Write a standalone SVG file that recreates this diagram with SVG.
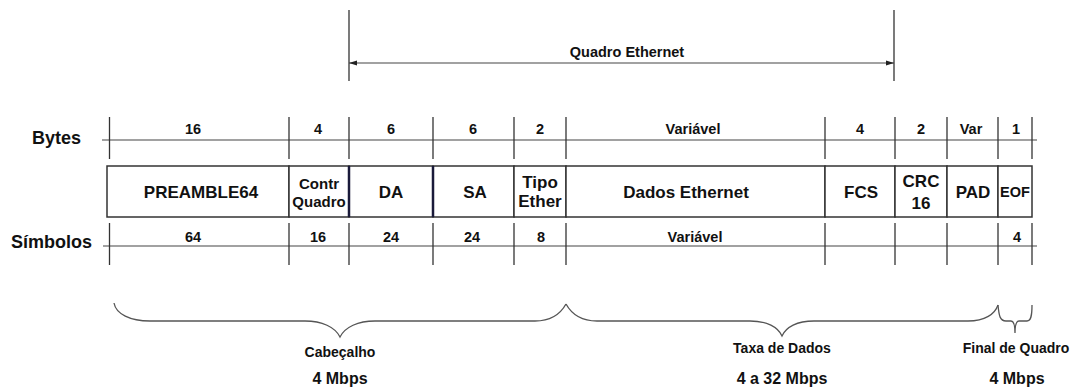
<svg xmlns="http://www.w3.org/2000/svg" width="1077" height="387" viewBox="0 0 1077 387">
<style>
text{font-family:"Liberation Sans",Arial,sans-serif;font-weight:bold;fill:#111;text-anchor:middle}
.lbl{font-size:18px;text-anchor:start}
.num{font-size:14.5px}
.box{font-size:17px}
.sm{font-size:15px}
.br{font-size:14px}
.rate{font-size:16px}
.cell{fill:#fff;stroke:#333;stroke-width:1.5}
.thick{stroke:#1a1a3a;stroke-width:2.5}
.dim{stroke:#444;stroke-width:1.2;fill:none}
.tick{stroke:#333;stroke-width:1.3}
.brace{stroke:#555;stroke-width:1.3;fill:none}
</style>
<defs>
<marker id="ah" viewBox="0 0 8 6" refX="8" refY="3" markerWidth="8" markerHeight="6" orient="auto-start-reverse" markerUnits="userSpaceOnUse">
<path d="M0,0.5 L8,3 L0,5.5 z" fill="#222"/>
</marker>
</defs>

<g id="title">
<line class="tick" x1="349" y1="10" x2="349" y2="81"/>
<line class="tick" x1="894" y1="10" x2="894" y2="81"/>
<text x="627" y="57" style="font-size:14.5px">Quadro Ethernet</text>
</g>

<g id="row-labels">
<text class="lbl" x="32" y="144">Bytes</text>
<text class="lbl" x="11" y="248">Símbolos</text>
</g>

<g id="frame">
<g id="preamble"><rect class="cell" x="107" y="166" width="182" height="51"/><text class="box" x="201" y="198">PREAMBLE64</text></g>
<g id="contr"><rect class="cell" x="289" y="166" width="60" height="51"/><text class="sm" x="319" y="189">Contr</text><text class="sm" x="319" y="207">Quadro</text></g>
<g id="da"><rect class="cell" x="349" y="166" width="84" height="51"/><text class="box" x="391" y="198">DA</text></g>
<g id="sa"><rect class="cell" x="433" y="166" width="81" height="51"/><text class="box" x="475" y="198">SA</text></g>
<g id="tipo"><rect class="cell" x="514" y="166" width="52" height="51"/><text class="box" x="540" y="188">Tipo</text><text class="box" x="540" y="207">Ether</text></g>
<g id="dados"><rect class="cell" x="566" y="166" width="259" height="51"/><text class="box" x="686" y="198">Dados Ethernet</text></g>
<g id="fcs"><rect class="cell" x="825" y="166" width="70" height="51"/><text class="box" x="861" y="198">FCS</text></g>
<g id="crc"><rect class="cell" x="895" y="166" width="52" height="51"/><text class="box" x="921" y="187">CRC</text><text class="box" x="921" y="209">16</text></g>
<g id="pad"><rect class="cell" x="947" y="166" width="51" height="51"/><text class="box" x="973" y="198">PAD</text></g>
<g id="eof"><rect class="cell" x="998" y="166" width="34" height="51"/><text x="1015" y="197" style="font-size:14.5px">EOF</text></g>
<line class="thick" x1="349" y1="166" x2="349" y2="217"/>
<line class="thick" x1="433" y1="166" x2="433" y2="217"/>
</g>

<g id="byte-values">
<text class="num" x="193" y="134">16</text>
<text class="num" x="318" y="134">4</text>
<text class="num" x="391" y="134">6</text>
<text class="num" x="473" y="134">6</text>
<text class="num" x="540" y="134">2</text>
<text class="num" x="693" y="134">Variável</text>
<text class="num" x="860" y="134">4</text>
<text class="num" x="921" y="134">2</text>
<text class="num" x="971" y="134">Var</text>
<text class="num" x="1016" y="134">1</text>
</g>

<g id="symbol-values">
<text class="num" x="193" y="242">64</text>
<text class="num" x="318" y="242">16</text>
<text class="num" x="391" y="242">24</text>
<text class="num" x="472" y="242">24</text>
<text class="num" x="541" y="242">8</text>
<text class="num" x="695" y="242">Variável</text>
<text class="num" x="1017" y="242">4</text>
</g>

<g id="connectors">
<line class="dim" x1="349" y1="63" x2="894" y2="63" marker-start="url(#ah)" marker-end="url(#ah)"/>
<line class="dim" x1="102" y1="140" x2="1037" y2="140"/>
<line class="dim" x1="103" y1="246" x2="1037" y2="246"/>
<g class="tick">
<line x1="109.5" y1="117" x2="109.5" y2="159"/><line x1="289" y1="117" x2="289" y2="159"/><line x1="349" y1="117" x2="349" y2="159"/><line x1="433" y1="117" x2="433" y2="159"/><line x1="514" y1="117" x2="514" y2="159"/><line x1="566" y1="117" x2="566" y2="159"/><line x1="825" y1="117" x2="825" y2="159"/><line x1="895" y1="117" x2="895" y2="159"/><line x1="947" y1="117" x2="947" y2="159"/><line x1="998" y1="117" x2="998" y2="159"/><line x1="1032" y1="117" x2="1032" y2="159"/>
<line x1="109.5" y1="223" x2="109.5" y2="265"/><line x1="289" y1="223" x2="289" y2="265"/><line x1="349" y1="223" x2="349" y2="265"/><line x1="433" y1="223" x2="433" y2="265"/><line x1="514" y1="223" x2="514" y2="265"/><line x1="566" y1="223" x2="566" y2="265"/><line x1="825" y1="223" x2="825" y2="265"/><line x1="895" y1="223" x2="895" y2="265"/><line x1="947" y1="223" x2="947" y2="265"/><line x1="998" y1="223" x2="998" y2="265"/><line x1="1032" y1="223" x2="1032" y2="265"/>
</g>
<path class="brace" d="M114,303 C116,314 130,321 150,321 L305,321 C322,321 335,327 340,337 C345,327 358,321 375,321 L535,321 C552,321 561,313 566,304"/>
<path class="brace" d="M566,304 C571,313 580,321 597,321 L750,321 C767,321 778,327 782,336 C786,327 797,321 814,321 L968,321 C985,321 995,314 998,305"/>
<path class="brace" d="M998,305 C999,316 1000,321 1006,321 L1011,321 C1014,321 1015,326 1015,333 C1015,326 1016,321 1019,321 L1027,321 C1031,321 1032,316 1032,305"/>
</g>

<g id="labels-bottom">
<text class="br" x="340" y="357">Cabeçalho</text>
<text class="rate" x="340" y="384">4 Mbps</text>
<text class="br" x="782" y="353">Taxa de Dados</text>
<text class="rate" x="782" y="384">4 a 32 Mbps</text>
<text class="br" x="1016" y="353">Final de Quadro</text>
<text class="rate" x="1017" y="384">4 Mbps</text>
</g>
</svg>
